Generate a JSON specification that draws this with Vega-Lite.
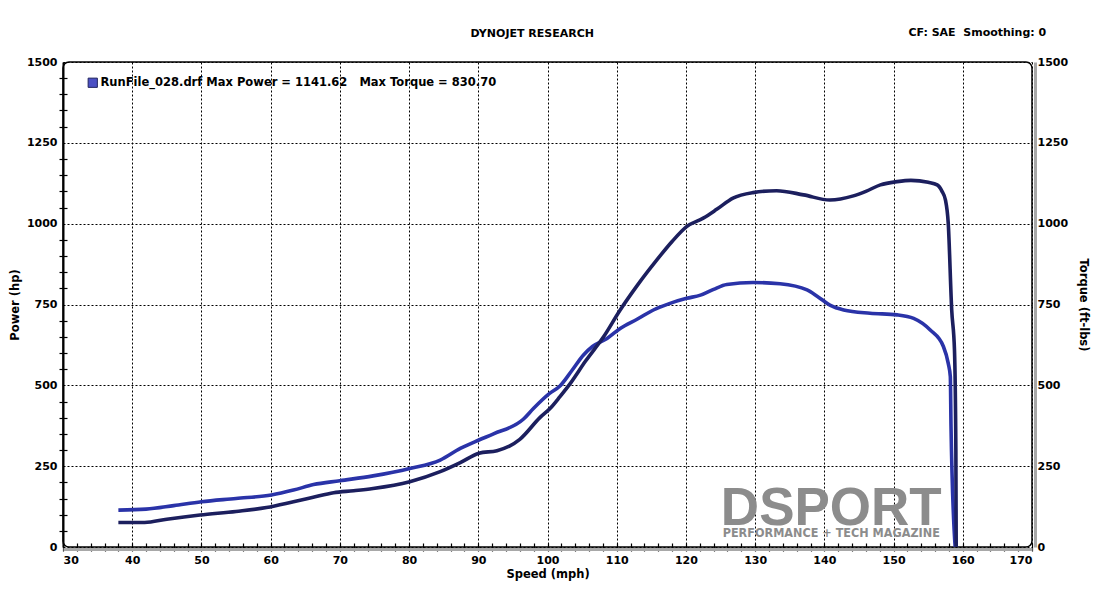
{
  "$schema": "https://vega.github.io/schema/vega-lite/v6.json",
  "width": 969,
  "height": 485,
  "autosize": {"type": "none"},
  "padding": {"left": 63, "top": 62, "right": 64, "bottom": 53},
  "background": "white",
  "datasets": {
    "power": [
      {"s": 38, "v": 76}, {"s": 41.8, "v": 76}, {"s": 45, "v": 86}, {"s": 49.8, "v": 99}, {"s": 55, "v": 110},
      {"s": 59.4, "v": 122}, {"s": 63.3, "v": 140}, {"s": 66, "v": 153}, {"s": 69.1, "v": 168}, {"s": 72, "v": 174},
      {"s": 74.8, "v": 181}, {"s": 80.1, "v": 202}, {"s": 84.5, "v": 233}, {"s": 87.4, "v": 261}, {"s": 90.1, "v": 290},
      {"s": 92.7, "v": 298}, {"s": 94.5, "v": 312}, {"s": 96.0, "v": 333}, {"s": 98.9, "v": 400}, {"s": 100.4, "v": 429},
      {"s": 101.8, "v": 465}, {"s": 103.3, "v": 506}, {"s": 105.5, "v": 575}, {"s": 108.1, "v": 650}, {"s": 110.5, "v": 733},
      {"s": 113, "v": 810}, {"s": 115.8, "v": 888}, {"s": 118, "v": 945}, {"s": 120.1, "v": 991}, {"s": 122.5, "v": 1017},
      {"s": 124.5, "v": 1045}, {"s": 126.8, "v": 1079}, {"s": 129.7, "v": 1096}, {"s": 133.1, "v": 1102}, {"s": 137.0, "v": 1089},
      {"s": 140.8, "v": 1073}, {"s": 144.2, "v": 1086}, {"s": 146, "v": 1100}, {"s": 148.1, "v": 1120}, {"s": 150.5, "v": 1130},
      {"s": 152.5, "v": 1134}, {"s": 155, "v": 1128}, {"s": 156.3, "v": 1120}, {"s": 157.0, "v": 1100}, {"s": 157.5, "v": 1073},
      {"s": 157.9, "v": 1001}, {"s": 158.4, "v": 733}, {"s": 158.8, "v": 609}, {"s": 159.0, "v": 300}, {"s": 159.05, "v": 0}
    ],
    "torque": [
      {"s": 38, "v": 114}, {"s": 42, "v": 117}, {"s": 46, "v": 128}, {"s": 50, "v": 140}, {"s": 55, "v": 150},
      {"s": 60.1, "v": 161}, {"s": 63.3, "v": 176}, {"s": 66.2, "v": 193}, {"s": 70, "v": 205}, {"s": 74.8, "v": 220},
      {"s": 80.1, "v": 243}, {"s": 84.5, "v": 269}, {"s": 87.4, "v": 305}, {"s": 90.1, "v": 331}, {"s": 92.2, "v": 350},
      {"s": 96.5, "v": 395}, {"s": 98, "v": 429}, {"s": 100.3, "v": 475}, {"s": 101.8, "v": 498}, {"s": 103.5, "v": 545},
      {"s": 105.2, "v": 594}, {"s": 106.5, "v": 620}, {"s": 108.6, "v": 645}, {"s": 110.5, "v": 676}, {"s": 113, "v": 705},
      {"s": 115.3, "v": 733}, {"s": 117.5, "v": 752}, {"s": 120.1, "v": 769}, {"s": 122.1, "v": 779}, {"s": 124, "v": 797},
      {"s": 125.9, "v": 812}, {"s": 129.7, "v": 818}, {"s": 133.6, "v": 814}, {"s": 137.5, "v": 795}, {"s": 139, "v": 775},
      {"s": 140.8, "v": 748}, {"s": 142.8, "v": 733}, {"s": 146.6, "v": 723}, {"s": 150.5, "v": 718}, {"s": 152.9, "v": 707},
      {"s": 155.3, "v": 671}, {"s": 157.2, "v": 620}, {"s": 157.9, "v": 568}, {"s": 158.2, "v": 527}, {"s": 158.3, "v": 372},
      {"s": 158.9, "v": 0}
    ],
    "labels": [
      {"t": "DSPORT"}
    ]
  },
  "layer": [
    {
      "data": {"name": "torque"},
      "mark": {"type": "line", "color": "#2a33a8", "strokeWidth": 3.6, "strokeJoin": "round", "strokeCap": "butt", "interpolate": "monotone"},
      "encoding": {
        "x": {"field": "s", "type": "quantitative", "scale": {"domain": [30, 170], "nice": false, "zero": false},
          "axis": {"orient": "bottom", "values": [30,32,34,36,38,40,42,44,46,48,50,52,54,56,58,60,62,64,66,68,70,72,74,76,78,80,82,84,86,88,90,92,94,96,98,100,102,104,106,108,110,112,114,116,118,120,122,124,126,128,130,132,134,136,138,140,142,144,146,148,150,152,154,156,158,160,162,164,166,168,170],
            "labels": false, "grid": false, "domain": false, "tickSize": 8, "offset": -4, "tickColor": "#000", "tickWidth": 1.2, "title": null}},
        "y": {"field": "v", "type": "quantitative", "scale": {"domain": [0, 1500], "nice": false},
          "axis": {"orient": "right", "values": [0,250,500,750,1000,1250,1500], "format": "d", "grid": false, "tickSize": 0, "offset": 3,
            "domainColor": "#a8a8a8", "domainWidth": 3, "labelPadding": 2, "title": "Torque (ft-lbs)", "titlePadding": 10}}
      }
    },
    {
      "data": {"name": "power"},
      "mark": {"type": "line", "color": "#1c1f5e", "strokeWidth": 3.6, "strokeJoin": "round", "strokeCap": "butt", "interpolate": "monotone"},
      "encoding": {
        "x": {"field": "s", "type": "quantitative",
          "axis": {"orient": "bottom", "values": [30,40,50,60,70,80,90,100,110,120,130,140,150,160,170], "format": "d", "grid": true,
            "tickSize": 0, "offset": 2, "domainColor": "#a8a8a8", "domainWidth": 3, "labelPadding": 5, "title": "Speed (mph)", "titlePadding": 3}},
        "y": {"field": "v", "type": "quantitative",
          "axis": {"orient": "left", "values": [0,250,500,750,1000,1250,1500], "format": "d", "grid": true, "tickSize": 0,
            "domainColor": "#000", "domainWidth": 2, "labelPadding": 6, "title": "Power (hp)", "titlePadding": 6}}
      }
    },
    {
      "data": {"name": "labels"},
      "mark": {"type": "text", "text": "DSPORT", "font": "Liberation Sans", "fontWeight": "bold", "fontSize": 53, "color": "#8c8c8c", "align": "center", "baseline": "alphabetic"},
      "encoding": {
        "x": {"datum": 141, "type": "quantitative", "axis": null},
        "y": {"datum": 68, "type": "quantitative",
          "axis": {"orient": "left", "values": [50,100,150,200,300,350,400,450,550,600,650,700,800,850,900,950,1050,1100,1150,1200,1300,1350,1400,1450],
            "labels": false, "grid": false, "domain": false, "tickSize": 8, "offset": -4, "tickColor": "#000", "tickWidth": 1.2, "title": null}}
      }
    },
    {
      "data": {"name": "labels"},
      "mark": {"type": "text", "text": "PERFORMANCE + TECH MAGAZINE", "font": "DejaVu Sans Condensed, Liberation Sans Narrow, sans-serif", "fontWeight": "bold", "fontSize": 12.5, "color": "#8c8c8c", "align": "center", "baseline": "alphabetic"},
      "encoding": {
        "x": {"datum": 141, "type": "quantitative", "axis": null},
        "y": {"datum": 32, "type": "quantitative", "axis": null}
      }
    },
    {
      "data": {"name": "labels"},
      "mark": {"type": "text", "text": "CF: SAE\u00a0\u00a0Smoothing: 0", "font": "DejaVu Sans", "fontWeight": "bold", "fontSize": 11, "color": "#000", "align": "center", "baseline": "middle", "clip": false},
      "encoding": {
        "x": {"datum": 162.1, "type": "quantitative", "axis": null},
        "y": {"datum": 1590, "type": "quantitative", "axis": null}
      }
    },
    {
      "data": {"name": "labels"},
      "mark": {"type": "text", "text": "DYNOJET RESEARCH", "font": "DejaVu Sans", "fontWeight": "bold", "fontSize": 11, "color": "#000", "align": "center", "baseline": "middle", "clip": false},
      "encoding": {
        "x": {"datum": 97.8, "type": "quantitative", "axis": null},
        "y": {"datum": 1587, "type": "quantitative", "axis": null}
      }
    },
    {
      "data": {"name": "labels"},
      "mark": {"type": "point", "filled": true, "size": 0, "opacity": 0},
      "encoding": {
        "x": {"datum": 100, "type": "quantitative", "axis": null},
        "y": {"datum": 0, "type": "quantitative", "axis": null},
        "fill": {"datum": "RunFile_028.drf Max Power = 1141.62\u00a0\u00a0\u00a0Max Torque = 830.70", "type": "nominal",
          "scale": {"range": ["#4b50c4"]},
          "legend": {"title": null, "orient": "none", "legendX": 24, "legendY": 15, "symbolType": "square", "symbolSize": 85,
            "symbolOpacity": 1, "symbolStrokeColor": "#20235e", "symbolStrokeWidth": 1, "labelFont": "DejaVu Sans",
            "labelFontWeight": "bold", "labelFontSize": 11.5, "labelColor": "#000", "labelLimit": 600, "labelOffset": 2, "padding": 0}}
      }
    }
  ],
  "resolve": {"scale": {"x": "shared", "y": "shared"}, "axis": {"x": "independent", "y": "independent"}},
  "config": {
    "view": {"stroke": "#000", "strokeWidth": 1.5, "cornerRadius": 6},
    "axis": {
      "labelFont": "DejaVu Sans", "labelFontWeight": "bold", "labelFontSize": 11, "labelColor": "#000",
      "titleFont": "DejaVu Sans", "titleFontWeight": "bold", "titleFontSize": 11.5, "titleColor": "#000",
      "gridColor": "#000", "gridDash": [2, 2], "gridWidth": 1, "gridOpacity": 1, "domainColor": "#000"
    }
  }
}
